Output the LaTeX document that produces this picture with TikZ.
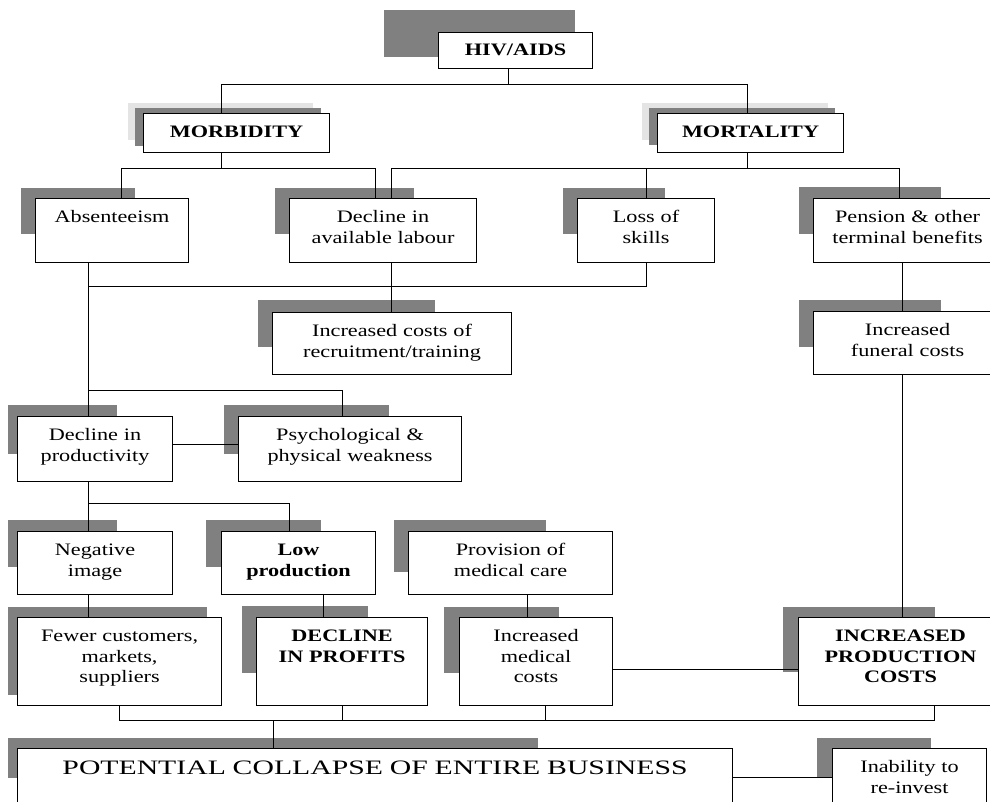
\documentclass[tikz,border=0pt]{standalone}
\usepackage{fontspec}
\setmainfont{Liberation Serif}[FakeStretch=1.27]
\newfontfamily\bannerfont{Liberation Serif}[FakeStretch=1.45]
\definecolor{shadowgrey}{RGB}{128,128,128}
\definecolor{paleshadow}{RGB}{228,228,228}

\begin{document}
\begin{tikzpicture}[
    x=1pt, y=-1pt,
    box/.style 2 args={
      rectangle,
      draw,
      fill=white,
      line width=1.1pt,
      inner sep=0pt,
      anchor=north west,
      align=center,
      text width=#1,
      text height=24pt,
      text depth=#2,
      font=\fontsize{17.5}{20.5}\selectfont
    },
    heading/.style={font=\fontsize{17.5}{20.5}\selectfont\bfseries},
    shadowfill/.style={fill=shadowgrey},
    line/.style={draw, line width=1pt},
]
    \useasboundingbox (0,0) rectangle (990,801);

    \fill[shadowfill] (384,10) rectangle (575,57);
    \fill[paleshadow] (128,103) rectangle (313,140);
    \fill[shadowfill] (135,108) rectangle (321,146);
    \fill[paleshadow] (642,103) rectangle (828,140);
    \fill[shadowfill] (649,108) rectangle (835,145);
    \fill[shadowfill] (21,188) rectangle (135,234);
    \fill[shadowfill] (275,188) rectangle (414,234);
    \fill[shadowfill] (563,188) rectangle (665,234);
    \fill[shadowfill] (799,187) rectangle (941,234);
    \fill[shadowfill] (258,300) rectangle (435,347);
    \fill[shadowfill] (799,300) rectangle (941,347);
    \fill[shadowfill] (8,405) rectangle (117,454);
    \fill[shadowfill] (224,405) rectangle (389,454);
    \fill[shadowfill] (8,520) rectangle (117,567);
    \fill[shadowfill] (206,520) rectangle (321,567);
    \fill[shadowfill] (394,520) rectangle (546,572);
    \fill[shadowfill] (8,607) rectangle (207,695);
    \fill[shadowfill] (242,606) rectangle (368,673);
    \fill[shadowfill] (444,607) rectangle (559,673);
    \fill[shadowfill] (783,607) rectangle (935,672);
    \fill[shadowfill] (8,738) rectangle (538,778);
    \fill[shadowfill] (817,738) rectangle (931,777);

    \node [box={154pt}{13pt}, heading, text height=23pt] (hiv) at (438,32) {HIV/AIDS};
    \node [box={186pt}{15pt}, heading] (morb) at (143,113) {MORBIDITY};
    \node [box={186pt}{15pt}, heading] (mort) at (657,113) {MORTALITY};

    \node [box={153pt}{40pt}] (abs) at (35,198) {Absenteeism};
    \node [box={187pt}{40pt}] (lab) at (289,198) {Decline in\\available labour};
    \node [box={137pt}{40pt}] (loss) at (577,198) {Loss of\\skills};
    \node [box={188pt}{40pt}] (pen) at (813,198) {Pension \& other\\terminal benefits};

    \node [box={239pt}{38pt}] (rec) at (272,312) {Increased costs of\\recruitment/training};
    \node [box={188pt}{39pt}] (fun) at (813,311) {Increased\\funeral costs};

    \node [box={155pt}{41pt}] (prod) at (17,416) {Decline in\\productivity};
    \node [box={223pt}{41pt}] (psy) at (238,416) {Psychological \&\\physical weakness};

    \node [box={155pt}{39pt}] (neg) at (17,531) {Negative\\image};
    \node [box={154pt}{39pt}, heading] (low) at (221,531) {Low\\production};
    \node [box={204pt}{39pt}] (prov) at (408,531) {Provision of\\medical care};

    \node [box={204pt}{64pt}] (few) at (17,617) {Fewer customers,\\markets,\\suppliers};
    \node [box={171pt}{64pt}, heading] (prof) at (256,617) {DECLINE\\IN PROFITS};
    \node [box={153pt}{64pt}] (med) at (459,617) {Increased\\medical\\costs};
    \node [box={204pt}{64pt}, heading] (ipc) at (798,617) {INCREASED\\PRODUCTION\\COSTS};

    \node [box={715pt}{60pt}, font=\bannerfont\fontsize{20.5}{24}\selectfont, text height=26pt] (pot) at (17,748) {POTENTIAL COLLAPSE OF ENTIRE BUSINESS};
    \node [box={154pt}{50pt}] (inab) at (832,748) {Inability to\\re-invest};

    \path [line] ([xshift=-7]hiv.south) -- ++(0,15) -| ([xshift=-15]morb.north);
    \path [line] ([xshift=-7]hiv.south) ++(0,15) -| ([xshift=-3]mort.north);

    \path [line] ([xshift=-15]morb.south) -- ++(0,15) -| ([xshift=9]abs.north);
    \path [line] ([xshift=-15]morb.south) ++(0,15) -| ([xshift=-8]lab.north);

    \path [line] ([xshift=-3]mort.south) -- ++(0,15) -| ([xshift=8]lab.north);
    \path [line] ([xshift=-3]mort.south) ++(0,15) -| (loss.north);
    \path [line] ([xshift=-3]mort.south) ++(0,15) -| ([xshift=-8]pen.north);

    \path [line] ([xshift=-24]abs.south) -- ([xshift=-24]abs.south |- prod.north);
    \path [line] (loss.south) -- ++(0,23) -| ([xshift=-24]abs.south);
    \path [line] ([xshift=8]lab.south) -- ([xshift=8]lab.south |- rec.north);
    \path [line] ([xshift=-24]abs.south) ++(0,127) -| ([xshift=-8]psy.north);
    \path [line] ([yshift=-28.5]prod.north east) -- ([yshift=-28.5]prod.north east -| psy.west);

    \path [line] ([xshift=-5]pen.south) -- ([xshift=-5]pen.south |- fun.north);
    \path [line] ([xshift=-5]fun.south) -- ([xshift=-5]fun.south |- ipc.north);

    \path [line] ([xshift=-7]prod.south) -- ([xshift=-7]prod.south |- neg.north);
    \path [line] ([xshift=-7]prod.south) ++(0,21) -| ([xshift=-9]low.north);
    \path [line] ([xshift=-7]neg.south) -- ([xshift=-7]neg.south |- few.north);
    \path [line] ([xshift=25]low.south) -- ([xshift=25]low.south |- prof.north);
    \path [line] ([xshift=17]prov.south) -- ([xshift=17]prov.south |- med.north);
    \path [line] ([yshift=-52.5]med.north east) -- ([yshift=-52.5]med.north east -| ipc.west);

    \path [line] (few.south) -- ++(0,14) -| ([xshift=34]ipc.south);
    \path [line] (prof.south) -- ++(0,14);
    \path [line] ([xshift=9]med.south) -- ++(0,14);
    \path [line] (few.south) ++(0,14) -| ([xshift=-102]pot.north);
    \path [line] ([yshift=-29.5]pot.north east) -- ([yshift=-29.5]pot.north east -| inab.west);

\end{tikzpicture}
\end{document}
